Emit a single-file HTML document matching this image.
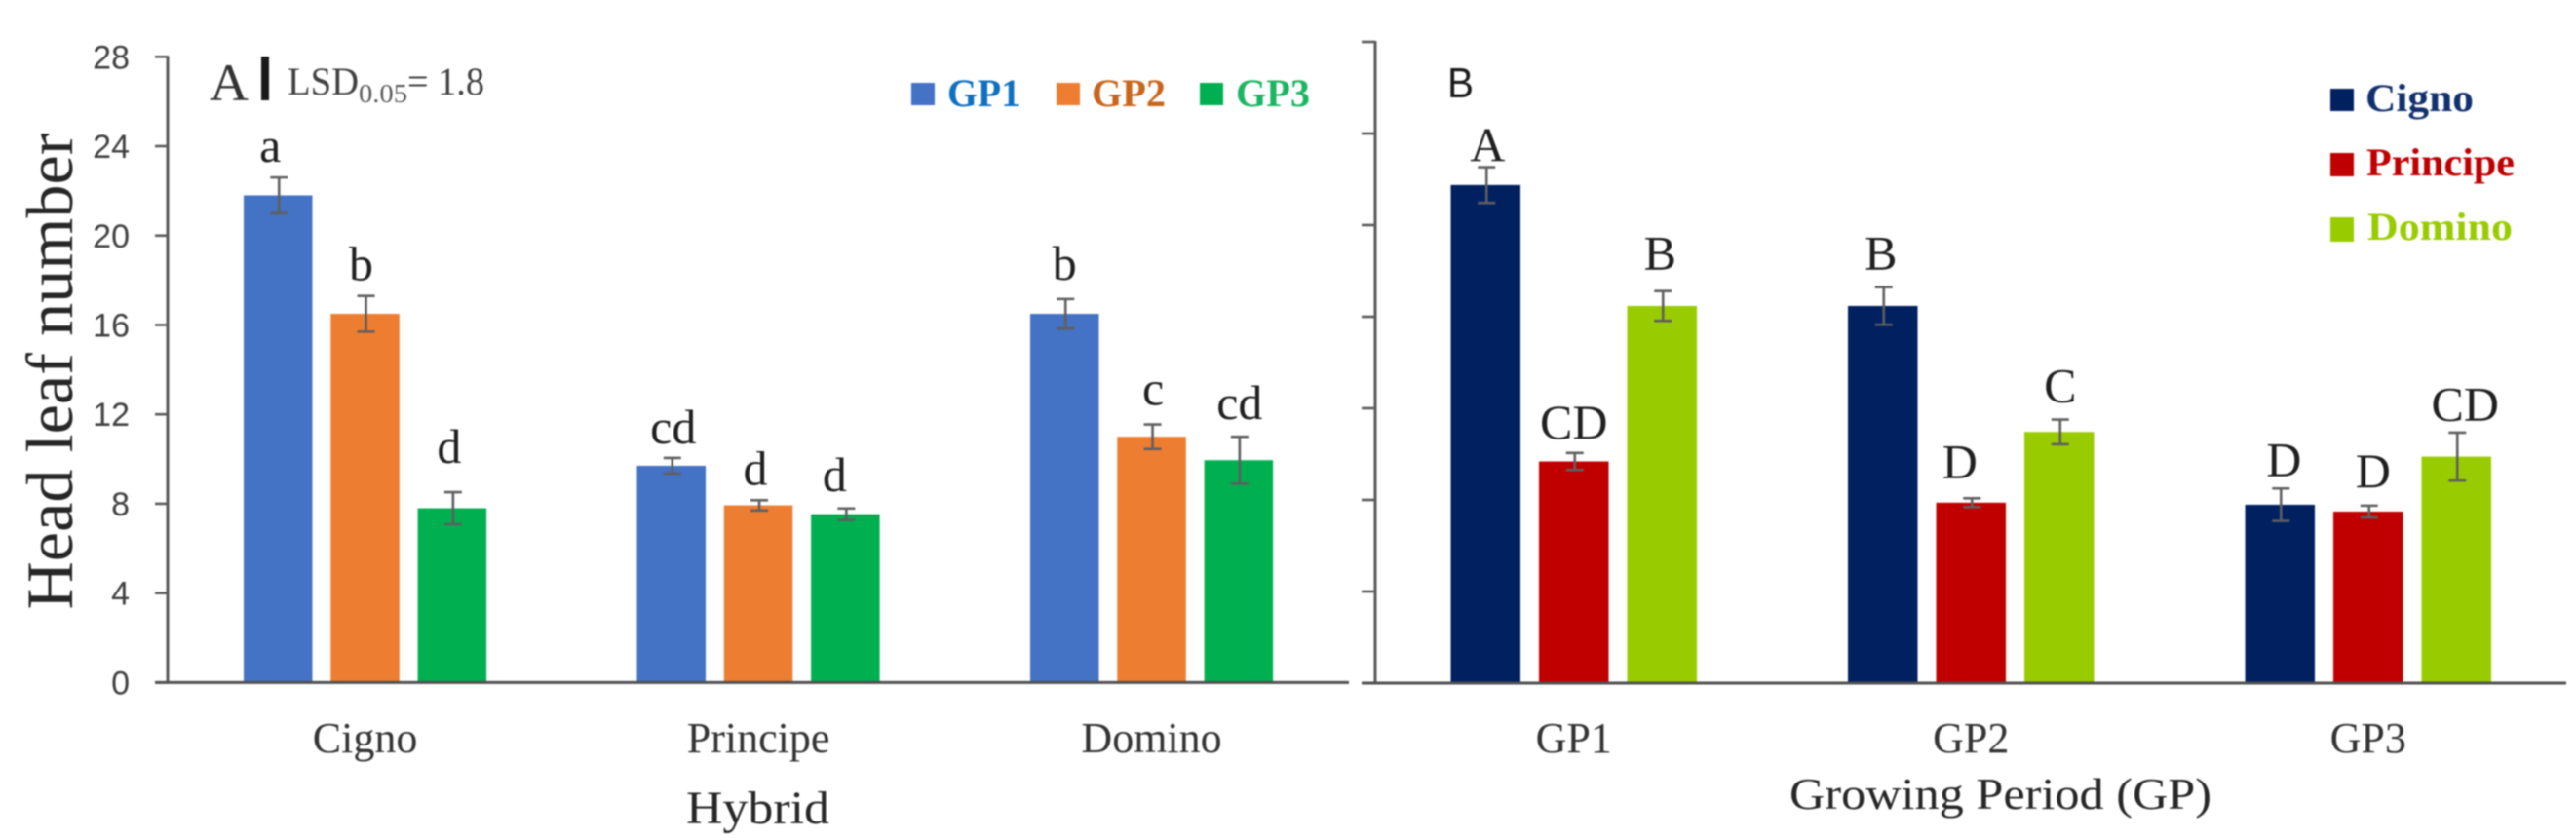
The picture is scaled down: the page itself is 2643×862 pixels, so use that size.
<!DOCTYPE html>
<html lang="en">
<head>
<meta charset="utf-8">
<title>Head leaf number by hybrid and growing period</title>
<style>
html,body{margin:0;padding:0;background:#fff;width:2643px;height:862px;overflow:hidden}
svg{display:block;filter:blur(0.8px)}
text{font-family:"Liberation Serif",serif}
</style>
</head>
<body>
<svg id="chart" xmlns="http://www.w3.org/2000/svg" width="2643" height="862" viewBox="0 0 2643 862">
  <rect width="2643" height="862" fill="#ffffff"/>
  <text transform="translate(74,381) rotate(-90)" text-anchor="middle" font-size="68" fill="#262626" textLength="489" lengthAdjust="spacingAndGlyphs">Head leaf number</text>

  <text x="215" y="103" font-size="54" fill="#333333" textLength="40" lengthAdjust="spacingAndGlyphs">A</text>
  <rect x="268" y="58" width="8" height="45" fill="#1a1a1a"/>
  <text x="295" y="97" font-size="40" fill="#404040" textLength="73" lengthAdjust="spacingAndGlyphs">LSD</text>
  <text x="368" y="105" font-size="27" fill="#595959" textLength="50" lengthAdjust="spacingAndGlyphs">0.05</text>
  <text x="418" y="97" font-size="40" fill="#404040" textLength="79" lengthAdjust="spacingAndGlyphs">= 1.8</text>

  <text x="1485" y="100" font-size="44" fill="#1a1a1a" style="font-family:'Liberation Sans',sans-serif" textLength="27" lengthAdjust="spacingAndGlyphs">B</text>

  <text x="704" y="845" font-size="48" fill="#262626" textLength="147" lengthAdjust="spacingAndGlyphs">Hybrid</text>
  <text x="1836" y="830" font-size="46" fill="#262626" textLength="433" lengthAdjust="spacingAndGlyphs">Growing Period (GP)</text>

  <g id="panel-a"></g>
  <g id="panel-b"></g>

  <g>
    <rect x="935" y="85" width="24" height="23" fill="#4472c4"/>
    <text x="972" y="109" font-size="40" font-weight="bold" fill="#0f70c0" textLength="75" lengthAdjust="spacingAndGlyphs">GP1</text>
    <rect x="1084" y="85" width="24" height="23" fill="#ed7d31"/>
    <text x="1120" y="109" font-size="40" font-weight="bold" fill="#c8661c" textLength="76" lengthAdjust="spacingAndGlyphs">GP2</text>
    <rect x="1231" y="85" width="24" height="23" fill="#00b050"/>
    <text x="1268" y="109" font-size="40" font-weight="bold" fill="#1cb562" textLength="76" lengthAdjust="spacingAndGlyphs">GP3</text>
  </g>
  <g>
    <rect x="2391" y="91" width="24" height="23" fill="#002060"/>
    <text x="2427" y="114" font-size="40" font-weight="bold" fill="#12306e" textLength="111" lengthAdjust="spacingAndGlyphs">Cigno</text>
    <rect x="2391" y="157" width="24" height="24" fill="#c00000"/>
    <text x="2428" y="180" font-size="40" font-weight="bold" fill="#c00000" textLength="152" lengthAdjust="spacingAndGlyphs">Principe</text>
    <rect x="2391" y="223" width="24" height="25" fill="#99cc00"/>
    <text x="2429" y="246" font-size="40" font-weight="bold" fill="#99cc00" textLength="149" lengthAdjust="spacingAndGlyphs">Domino</text>
  </g>
</svg>
<script>
// Shared axis ticks
const yTicks = [0, 4, 8, 12, 16, 20, 24, 28];

// Panel A: hybrids on the category axis, growing periods as series
const hybridCategories = ['Cigno', 'Principe', 'Domino'];
const gp1Values = [21.8, 9.7, 16.5];
const gp2Values = [16.5, 7.93, 11.0];
const gp3Values = [7.8, 7.53, 9.95];
const gp1Errors = [0.8, 0.35, 0.66];
const gp2Errors = [0.8, 0.23, 0.55];
const gp3Errors = [0.72, 0.26, 1.05];
const gp1Letters = ['a', 'cd', 'b'];
const gp2Letters = ['b', 'd', 'c'];
const gp3Letters = ['d', 'd', 'cd'];

// Panel B: growing periods on the category axis, hybrids as series
const periodCategories = ['GP1', 'GP2', 'GP3'];
const cignoValues = [21.75, 16.47, 7.79];
const principeValues = [9.68, 7.88, 7.49];
const dominoValues = [16.47, 10.97, 9.89];
const cignoErrors = [0.78, 0.82, 0.71];
const principeErrors = [0.37, 0.19, 0.26];
const dominoErrors = [0.65, 0.54, 1.05];
const cignoLetters = ['A', 'B', 'D'];
const principeLetters = ['CD', 'D', 'D'];
const dominoLetters = ['B', 'C', 'CD'];

const NS = 'http://www.w3.org/2000/svg';
function mk(tag, attrs, parent) {
  const el = document.createElementNS(NS, tag);
  for (const k in attrs) el.setAttribute(k, attrs[k]);
  parent.appendChild(el);
  return el;
}

function drawPanel(cfg) {
  const g = cfg.root;
  const yScale = v => cfg.y0 - (v / 28) * (cfg.y0 - cfg.y28);
  const barX = (c, s) => cfg.x0 + c * cfg.groupStep + s * cfg.barStep;

  cfg.series.forEach((ser, s) => {
    cfg.categories.forEach((cat, c) => {
      const v = ser.values[c], e = ser.errors[c];
      const x = barX(c, s);
      const top = yScale(v);
      const bar = mk('rect', {x: x, y: top, width: cfg.barW, height: cfg.y0 - top, fill: ser.color}, g);
      
      

      const cx = x + cfg.barW / 2 + 1;
      const yHi = yScale(v + e), yLo = yScale(v - e);
      const err = mk('path', {
        d: 'M' + cx + ' ' + yHi + 'V' + yLo + 'M' + (cx - 9) + ' ' + yHi + 'H' + (cx + 9) + 'M' + (cx - 9) + ' ' + yLo + 'H' + (cx + 9),
        fill: 'none', stroke: '#5f5f5f', 'stroke-width': 2.6
      }, g);
      
      

      const nudge = cfg.nudges[s * 3 + c];
      const letter = mk('text', {
        x: x + cfg.barW / 2 + nudge[0], y: yHi - nudge[1],
        'text-anchor': 'middle', 'font-size': 50, fill: '#1f1f1f'
      }, g);
      letter.textContent = ser.letters[c];
      
      
    });
  });

  yTicks.forEach(t => {
    const y = yScale(t);
    const tick = mk('line', {x1: cfg.axisX - cfg.tickLen, x2: cfg.axisX, y1: y, y2: y, stroke: '#595959', 'stroke-width': 2.6}, g);
    
    
    if (cfg.showTickLabels) {
      const lab = mk('text', {x: 133, y: y + 12, 'text-anchor': 'end', 'font-size': 34, fill: '#404040'}, g);
      lab.style.fontFamily = '"Liberation Sans", sans-serif';
      lab.textContent = t;
      
      
    }
  });

  const yAxis = mk('line', {x1: cfg.axisX, x2: cfg.axisX, y1: cfg.y28 - 1, y2: cfg.y0, stroke: '#595959', 'stroke-width': 3}, g);
  
  
  const xAxis = mk('line', {x1: cfg.axisX - cfg.tickLen, x2: cfg.axisEnd, y1: cfg.y0, y2: cfg.y0, stroke: '#505050', 'stroke-width': 3}, g);
  
  

  cfg.categories.forEach((cat, c) => {
    const cx = barX(c, 1) + cfg.barW / 2;
    const lab = mk('text', {x: cx, y: 772, 'text-anchor': 'middle', 'font-size': 44, fill: '#333333'}, g);
    lab.textContent = cat;
    
    
  });
}

drawPanel({
  root: document.getElementById('panel-a'),
  categories: hybridCategories,
  series: [
    {name: 'gp1', color: '#4472c4', values: gp1Values, errors: gp1Errors, letters: gp1Letters},
    {name: 'gp2', color: '#ed7d31', values: gp2Values, errors: gp2Errors, letters: gp2Letters},
    {name: 'gp3', color: '#00b050', values: gp3Values, errors: gp3Errors, letters: gp3Letters}
  ],
  nudges: [[-8,16],[2,15],[0,20],[-4,16],[-3,16],[1.5,20],[-3,30],[-11,18],[1,18]],
  x0: 250, groupStep: 403.5, barStep: 89.3, barW: 70.5,
  y0: 700.4, y28: 58.3, axisX: 172, tickLen: 13, axisEnd: 1384, showTickLabels: true
});

drawPanel({
  root: document.getElementById('panel-b'),
  categories: periodCategories,
  series: [
    {name: 'cigno', color: '#002060', values: cignoValues, errors: cignoErrors, letters: cignoLetters},
    {name: 'principe', color: '#c00000', values: principeValues, errors: principeErrors, letters: principeLetters},
    {name: 'domino', color: '#99cc00', values: dominoValues, errors: dominoErrors, letters: dominoLetters}
  ],
  nudges: [[2,6],[-2,18],[4,13],[0,15],[-11.5,21],[5,19],[-2,22],[1,18],[9,12.5]],
  x0: 1488.5, groupStep: 407.5, barStep: 90.5, barW: 71.5,
  y0: 701, y28: 43, axisX: 1411, tickLen: 14, axisEnd: 2633, showTickLabels: false
});
</script>
</body>
</html>
